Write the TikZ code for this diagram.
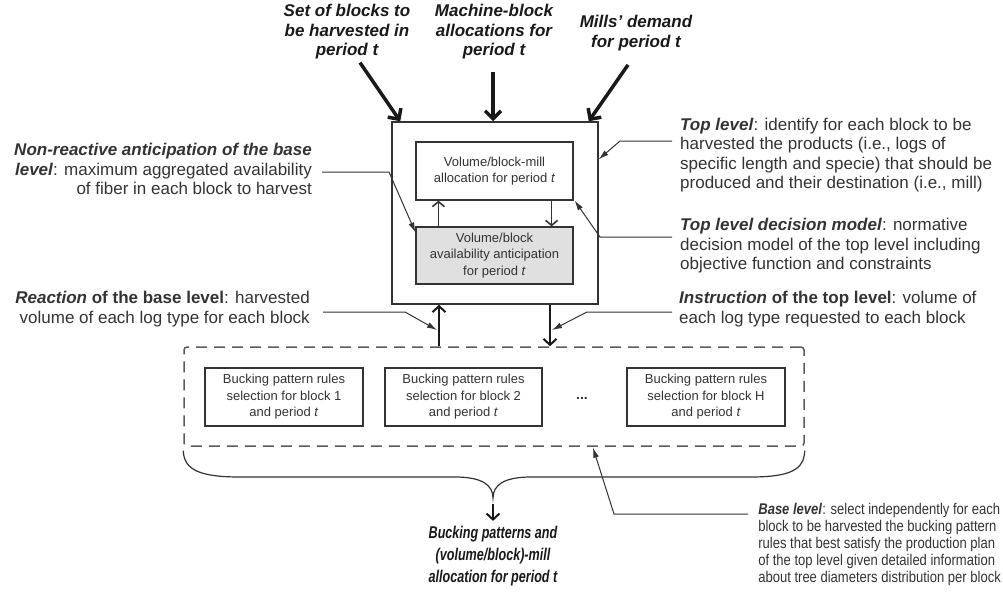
\documentclass[tikz,border=0pt]{standalone}
\usepackage{fontspec}
\setmainfont{Liberation Sans}
\newfontfamily\condfont[FakeStretch=0.84]{Liberation Sans}
\newfontfamily\narrowfont[FakeStretch=0.74]{Liberation Sans}
\usetikzlibrary{arrows.meta}
\definecolor{ln}{HTML}{333333}
\definecolor{gbox}{HTML}{E0E0E0}
\begin{document}
\begin{tikzpicture}[x=1pt,y=-1pt,
  lbl/.style={font=\fontsize{17}{19.5}\selectfont\bfseries\itshape,align=center,inner sep=0pt,text=black!90},
  annl/.style={font=\fontsize{17}{19.5}\selectfont,align=left,inner sep=0pt,text=ln,anchor=west},
  annr/.style={font=\fontsize{17}{19.5}\selectfont,align=right,inner sep=0pt,text=ln,anchor=east},
  box/.style={draw=ln,line width=1.2pt,inner sep=0pt,font=\fontsize{13}{16.5}\selectfont,align=center,text=ln},
  big/.style={line width=3.5pt,draw=black!90,-{Straight Barb[length=8pt,width=16pt]}},
  mid/.style={line width=2pt,draw=black!90,-{Straight Barb[length=6pt,width=13pt]}},
  small/.style={line width=1.6pt,draw=ln,-{Straight Barb[length=5pt,width=12pt]}},
  ann/.style={line width=1pt,draw=ln,-{Latex[length=10pt,width=6pt]}},
  ]
\useasboundingbox (0,0) rectangle (1003,592);

% top labels
\node[lbl] (setlbl) at (347,32) {Set of blocks to\\be harvested in\\period t};
\node[lbl] (machlbl) at (494,32) {Machine-block\\allocations for\\period t};
\node[lbl] (millslbl) at (636,33) {Mills' demand\\for period t};

% top level
\node[draw=ln,line width=1.5pt,minimum width=206pt,minimum height=182pt,inner sep=0pt] (outer) at (495,213) {};
\node[box,fill=white,minimum width=157pt,minimum height=58pt] (topbox) at (494.5,171) {Volume/block-mill\\allocation for period \textit{t}};
\node[box,fill=gbox,minimum width=157pt,minimum height=57pt] (gray) at (494.5,255.5) {Volume/block\\availability anticipation\\for period \textit{t}};
\draw[small] ([xshift=23pt]gray.north west) -- ([xshift=23pt]topbox.south west);
\draw[small] ([xshift=-22pt]topbox.south east) -- ([xshift=-22pt]gray.north east);

% top arrows
\draw[big] ([xshift=13pt,yshift=-3pt]setlbl.south) -- ([xshift=9pt]outer.north west);
\draw[big] ([xshift=-1pt,yshift=-12pt]machlbl.south) -- ([xshift=-2pt]outer.north);
\draw[big] ([xshift=-8pt,yshift=-14pt]millslbl.south) -- ([xshift=-10pt]outer.north east);

% base level
\node[draw=ln!80,line width=1.5pt,dash pattern=on 11pt off 7pt,rounded corners=3pt,minimum width=620pt,minimum height=99pt,inner sep=0pt] (dashed) at (494,396.5) {};
\node[box,minimum width=158pt,minimum height=58pt] (b1) at (284,397) {Bucking pattern rules\\selection for block 1\\and period \textit{t}};
\node[box,minimum width=157pt,minimum height=58pt] (b2) at (463.5,397) {Bucking pattern rules\\selection for block 2\\and period \textit{t}};
\node[font=\fontsize{14}{16}\selectfont\bfseries,text=ln,inner sep=0pt] (dots) at (582,398) {...};
\node[box,minimum width=158pt,minimum height=58pt] (bH) at (706,397) {Bucking pattern rules\\selection for block H\\and period \textit{t}};

% vertical arrows between levels
\draw[mid] ([xshift=-55pt]dashed.north) -- ([xshift=-55pt]dashed.north |- outer.south);
\draw[mid] ([xshift=56pt]dashed.north |- outer.south) -- ([xshift=56pt]dashed.north);

% annotations
\node[annr] (nr) at (312,169) {\textbf{\textit{Non-reactive anticipation of the base}}\\\textbf{\textit{level}}: maximum aggregated availability\\of fiber in each block to harvest};
\node[annr] (react) at (310,309) {\textbf{\textit{Reaction}} \textbf{of the base level}: harvested\\volume of each log type for each block};
\node[annl] (toplvl) at (680,155) {\textbf{\textit{Top level}}: identify for each block to be\\harvested the products (i.e., logs of\\specific length and specie) that should be\\produced and their destination (i.e., mill)};
\node[annl] (tdm) at (680,246) {\textbf{\textit{Top level decision model}}: normative\\decision model of the top level including\\objective function and constraints};
\node[annl] (instr) at (679,309) {\textbf{\textit{Instruction}} \textbf{of the top level}: volume of\\each log type requested to each block};
\node[font=\condfont\fontsize{15.5}{17}\selectfont,align=left,inner sep=0pt,text=ln,anchor=east] (base) at (1001,544) {\textbf{\textit{Base level}}: select independently for each\\block to be harvested the bucking pattern\\rules that best satisfy the production plan\\of the top level given detailed information\\about tree diameters distribution per block};

\coordinate (nrA) at (322,172);
\coordinate (nrB) at (389,172);
\draw[ann] (nrA) -- (nrB) -- ([yshift=-6pt]gray.north west);

\coordinate (tlA) at (672,141);
\coordinate (tlB) at (620,141);
\draw[ann] (tlA) -- (tlB) -- ([yshift=-38pt]outer.north east);

\coordinate (tdA) at (672,237);
\coordinate (tdB) at (600,237);
\draw[ann] (tdA) -- (tdB) -- ([xshift=1pt]topbox.south east);

\coordinate (rcA) at (323,312);
\coordinate (rcB) at (405,312);
\draw[ann] (rcA) -- (rcB) -- (437,330);

\coordinate (inA) at (672,312);
\coordinate (inB) at (587,312);
\draw[ann] (inA) -- (inB) -- (552,330);

\coordinate (bsA) at (748,514);
\coordinate (bsB) at (614,514);
\draw[ann] (bsA) -- (bsB) -- ([xshift=99pt,yshift=-1pt]dashed.south);

% brace
\coordinate (btip) at (493,498);
\draw[line width=1.2pt,draw=ln] ([yshift=-4pt]dashed.south west) .. controls (184,470) and (200,477) .. (240,477) -- (455,477)
  .. controls (482,477) and (493,485) .. (btip) .. controls (493,485) and (504,477) .. (531,477) -- (750,477)
  .. controls (790,477) and (804,470) .. ([yshift=-4pt]dashed.south east);
\node[lbl,font=\narrowfont\fontsize{17}{22}\selectfont\bfseries\itshape] (outlbl) at (493,556) {Bucking patterns and\\(volume/block)-mill\\allocation for period t};
\draw[mid] ([yshift=-6pt]btip) -- ([yshift=5pt]outlbl.north);
\end{tikzpicture}
\end{document}
